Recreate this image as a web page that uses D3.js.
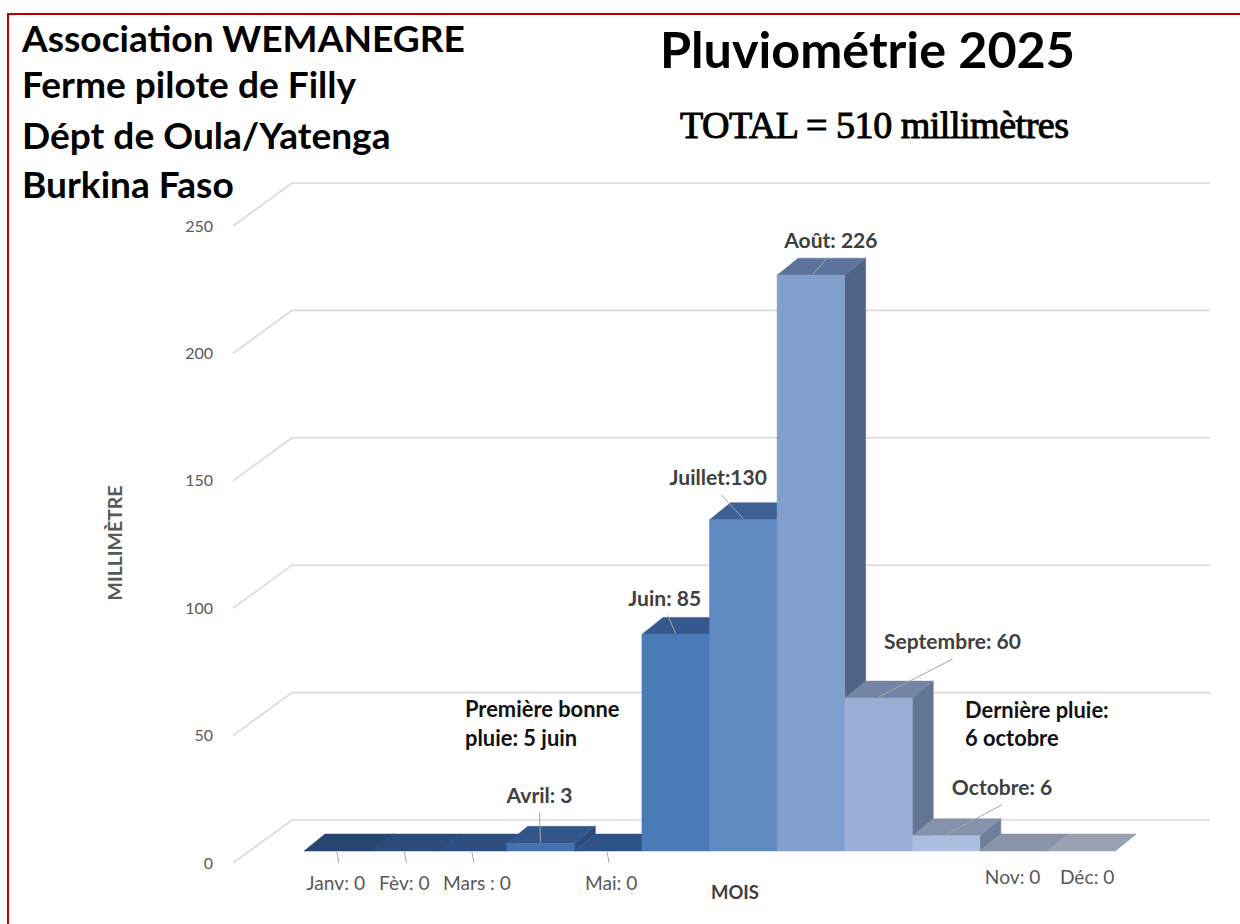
<!DOCTYPE html>
<html><head><meta charset="utf-8">
<script src="https://cdn.jsdelivr.net/npm/d3@7"></script>
<style>html,body{margin:0;padding:0;background:#fff;overflow:hidden;} svg{display:block;}</style>
</head><body>
<svg id="chart" width="1240" height="924"></svg>
<script>
// ---------------- DATA ----------------
const months = ["Janv","Fèv","Mars","Avril","Mai","Juin","Juillet","Août","Septembre","Octobre","Nov","Déc"];
const rainfall = [0,0,0,3,0,85,130,226,60,6,0,0];
const valueLabels = ["Janv: 0","Fèv: 0","Mars : 0","Avril: 3","Mai: 0","Juin: 85","Juillet:130","Août: 226","Septembre: 60","Octobre: 6","Nov: 0","Déc: 0"];
const yTicks = [0,50,100,150,200,250];
const headerLines = ["Association WEMANEGRE","Ferme pilote de Filly","Dépt de Oula/Yatenga","Burkina Faso"];
const titleText = "Pluviométrie 2025";
const subtitleText = "TOTAL = 510 millimètres";
const noteFirst = ["Première bonne","pluie: 5 juin"];
const noteLast = ["Dernière pluie:","6 octobre"];
const yAxisTitle = "MILLIMÈTRE";
const xAxisTitle = "MOIS";

// ---------------- STYLES / LAYOUT ----------------
const frontColors = ["#2a4a75","#2d5080","#30558a","#4472b0","#36609c","#4a7bb7","#6189c2","#819fcd","#9aafd5","#adbfe1","#a9b2c7","#b8bfd0"];
const topColors   = ["#27466f","#2a4b78","#2d4f80","#33568a","#2f5286","#35598d","#3f6092","#5c749b","#7285a6","#8592ab","#8a93a8","#9aa1b3"];
const sideColors  = ["#223c60","#25416a","#284672","#2b4a78","#2a4a78","#2f4f7f","#3a5884","#506586","#627595","#6f7e9a","#7a8298","#8890a4"];
// label centre offsets from each bar's front-top centre
const labelOffsets = [[-2,32],[-1,32],[4,32],[-1,-48],[3,32],[-11,-36],[-25,-42],[20,-35],[74,-56],[56,-48],[-1,26],[6,26]];
const leaderShown = [true,true,true,true,true,true,true,true,true,true,false,false];
const labelWidths = [60,55,67,66,52,71,95,95,140,100,53,53];

const svg = d3.select("#chart");
const floorFront = 851;
const depth = {dx:21, dy:-17};
const wall = {frontX:233, frontY:863, backX:292, backY:820, rightX:1210};

const x = d3.scaleBand().domain(months).range([304,1115]).padding(0);
const hScale = d3.scaleLinear().domain([0,250]).range([0,637]);

function fitGroup(sel, targets, base){
  sel.style("font-size", base+"px");
  let meas = 0; sel.each(function(){ meas += this.getComputedTextLength(); });
  const tot = d3.sum(targets);
  sel.style("font-size", (base*tot/meas).toFixed(2)+"px");
}

// border
svg.append("rect").attr("x",8).attr("y",14).attr("width",1400).attr("height",1100)
  .attr("fill","none").attr("stroke","#c00000").attr("stroke-width",2);

// gridlines (side wall + back wall)
const grid = svg.append("g");
yTicks.forEach(t=>{
  const hh = hScale(t);
  grid.append("polyline")
    .attr("points",[[wall.frontX,wall.frontY-hh],[wall.backX,wall.backY-hh],[wall.rightX,wall.backY-hh]].map(p=>p.join(",")).join(" "))
    .attr("fill","none").attr("stroke","#d9d9d9").attr("stroke-width",1.6);
});
svg.append("g").selectAll("text").data(yTicks).join("text")
  .attr("x",213).attr("y",t=>wall.frontY-hScale(t)).attr("dy","0.35em")
  .attr("text-anchor","end").attr("fill","#595959")
  .style("font-family","Lato, 'Open Sans', sans-serif").style("font-size","16px")
  .text(t=>t);

// bars
const bw = x.bandwidth();
const bars = svg.append("g");
months.forEach((m,i)=>{
  const x0 = x(m), x1 = x0+bw, yT = floorFront - hScale(rainfall[i]);
  const P = pts=>pts.map(p=>p.join(",")).join(" ");
  bars.append("polygon").attr("points",P([[x1,yT],[x1+depth.dx,yT+depth.dy],[x1+depth.dx,floorFront+depth.dy],[x1,floorFront]]))
    .attr("fill",sideColors[i]).attr("stroke",sideColors[i]).attr("stroke-width",0.5);
  bars.append("polygon").attr("points",P([[x0,yT],[x1,yT],[x1+depth.dx,yT+depth.dy],[x0+depth.dx,yT+depth.dy]]))
    .attr("fill",topColors[i]).attr("stroke",topColors[i]).attr("stroke-width",0.5);
  if(rainfall[i]>0)
    bars.append("polygon").attr("points",P([[x0,yT],[x1,yT],[x1,floorFront],[x0,floorFront]]))
      .attr("fill",frontColors[i]).attr("stroke",frontColors[i]).attr("stroke-width",0.5);
});

// data labels + leader lines
const lab = svg.append("g");
const lblSel = [];
months.forEach((m,i)=>{
  const cx = x(m)+bw/2, cy = floorFront - hScale(rainfall[i]);
  const lx = cx+labelOffsets[i][0], ly = cy+labelOffsets[i][1];
  const zero = rainfall[i]===0;
  if(leaderShown[i]){
    if(zero){
      lab.append("line").attr("x1",cx-1).attr("y1",floorFront+1).attr("x2",cx+1).attr("y2",floorFront+12)
        .attr("stroke","#a6a6a6").attr("stroke-width",1);
    } else {
      lab.append("line").attr("x1",lx+ (i===7?-3:(i===5||i===6?3:0))).attr("y1",ly+17).attr("x2",cx+(i===7?2:0)).attr("y2",cy-1)
        .attr("stroke","#a6a6a6").attr("stroke-width",1);
    }
  }
  const t = lab.append("text").attr("x",lx).attr("y",ly).attr("dy","0.35em").attr("text-anchor","middle")
    .attr("fill", zero? "#595959":"#404040")
    .style("font-family","Lato, 'Open Sans', sans-serif")
    .style("font-weight", zero? "400":"700")
    .text(valueLabels[i]);
  lblSel.push({t, zero, w: labelWidths[i]});
});
{
  const nz = lblSel.filter(d=>!d.zero), zz = lblSel.filter(d=>d.zero);
  fitGroup(d3.selectAll(nz.map(d=>d.t.node())), nz.map(d=>d.w), 17);
  fitGroup(d3.selectAll(zz.map(d=>d.t.node())), zz.map(d=>d.w), 15);
}

// notes
const notesSel = svg.append("g").style("font-family","Lato, 'Open Sans', sans-serif").style("font-weight","700").attr("fill","#111");
noteFirst.forEach((s,k)=>notesSel.append("text").attr("x",465).attr("y",717+k*29).text(s));
noteLast.forEach((s,k)=>notesSel.append("text").attr("x",965).attr("y",718+k*28).text(s));
fitGroup(notesSel.selectAll("text"), [153,113,148,90], 18);

// axis titles
const yt = svg.append("text").attr("transform","translate(115,543) rotate(-90)").attr("text-anchor","middle").attr("dy","0.35em")
  .attr("fill","#595959").style("font-family","Lato, 'Open Sans', sans-serif").style("font-weight","700").text(yAxisTitle);
fitGroup(yt, [115], 15);
const xt = svg.append("text").attr("x",735).attr("y",893).attr("text-anchor","middle").attr("dy","0.35em")
  .attr("fill","#404040").style("font-family","Lato, 'Open Sans', sans-serif").style("font-weight","700").text(xAxisTitle);
fitGroup(xt, [48], 16);

// headers
const hdr = svg.append("g").style("font-family","Lato, 'Open Sans', sans-serif").style("font-weight","700").attr("fill","#000");
const hdrBase = [52,98,149,198];
headerLines.forEach((s,k)=>hdr.append("text").attr("x",22).attr("y",hdrBase[k]).text(s));
fitGroup(hdr.selectAll("text"), [430,340,374,214], 32);

const tt = svg.append("text").attr("x",660).attr("y",68).attr("fill","#000")
  .style("font-family","Lato, 'Open Sans', sans-serif").style("font-weight","700").text(titleText);
fitGroup(tt, [415], 46);
const st = svg.append("text").attr("x",680).attr("y",138).attr("fill","#000").attr("stroke","#000").attr("stroke-width",1)
  .style("font-family","'Liberation Serif', 'Times New Roman', serif").style("font-weight","400").style("letter-spacing","-0.5px").text(subtitleText);
fitGroup(st, [388], 36);
</script>
</body></html>
